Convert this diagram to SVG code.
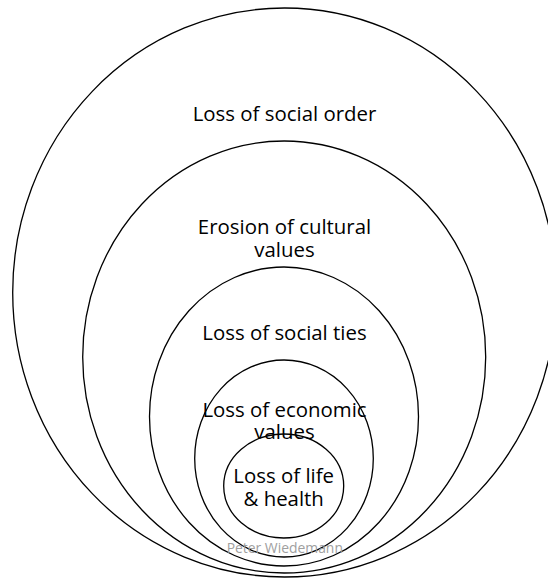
<svg xmlns="http://www.w3.org/2000/svg" width="548" height="578" viewBox="0 0 548 578">
<style>
.ring{fill:none;stroke:#000;stroke-width:1.3}
.lbl{font-family:"Open Sans","Noto Sans",sans-serif;font-size:20.4px;fill:#000;text-anchor:middle}
.credit{font-family:"Open Sans","Noto Sans",sans-serif;font-size:13.9px;fill:#a0a0a0;text-anchor:middle}
</style>
<rect width="548" height="578" fill="#fff"/>
<g id="social-order">
<ellipse class="ring" cx="284.5" cy="292.5" rx="271.8" ry="284.5"/>
<text class="lbl" x="284.5" y="120.7">Loss of social order</text>
</g>
<g id="cultural-values">
<ellipse class="ring" cx="284.2" cy="357" rx="201.5" ry="216"/>
<text class="lbl" x="284.5" y="234.3">Erosion of cultural</text>
<text class="lbl" x="284.5" y="256.7">values</text>
</g>
<g id="social-ties">
<ellipse class="ring" cx="284" cy="416.5" rx="134.5" ry="149.5"/>
<text class="lbl" x="284.5" y="340">Loss of social ties</text>
</g>
<g id="economic-values">
<ellipse class="ring" cx="284" cy="458.5" rx="89.3" ry="98.5"/>
<text class="lbl" x="284.5" y="417.3">Loss of economic</text>
<text class="lbl" x="284.5" y="439.3">values</text>
</g>
<g id="life-health">
<ellipse class="ring" cx="283.7" cy="486" rx="60" ry="52"/>
<text class="lbl" x="283.7" y="483.3">Loss of life</text>
<text class="lbl" x="283.7" y="506">&amp; health</text>
</g>
<text class="credit" x="284.8" y="553.3">Peter Wiedemann</text>
</svg>
